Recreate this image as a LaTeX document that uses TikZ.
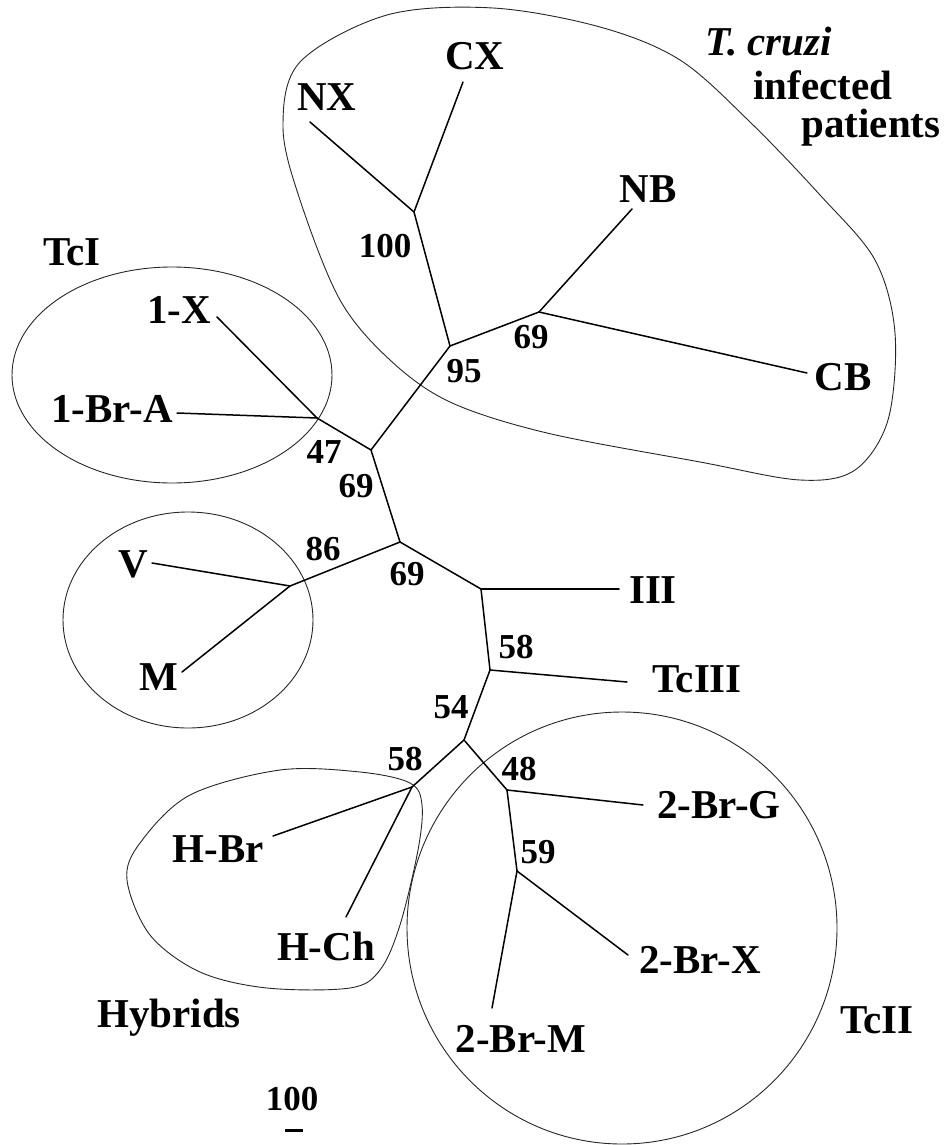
\documentclass[tikz,border=0pt]{standalone}
\usepackage{fontspec}
\setmainfont{Liberation Serif}
\begin{document}
\begin{tikzpicture}[x=1pt,y=-1pt,
  br/.style={line width=1.5pt, line cap=round, line join=round},
  outl/.style={line width=0.9pt, black!85},
  lab/.style={font=\fontsize{41}{45}\selectfont\bfseries, anchor=base, inner sep=0pt},
  bs/.style={font=\fontsize{35}{40}\selectfont\bfseries, anchor=base, inner sep=0pt}]
\useasboundingbox (0,0) rectangle (944,1145);

% ---------- group outlines ----------
\draw[outl] plot[smooth cycle, tension=0.55] coordinates {
 (387,15) (493,8) (600,27) (680,60) (750,122) (820,195) (875,260)
 (895,333) (888,420) (855,470) (800,480) (700,462)
 (547,433) (450,402) (390,360) (340,300) (300,200)
 (283,127) (300,62)};
\draw[outl] (172,375) ellipse [x radius=160, y radius=108];
\draw[outl] (188,620) ellipse [x radius=125, y radius=108];
\draw[outl] (622,928) ellipse [x radius=215, y radius=216];
\draw[outl] plot[smooth cycle, tension=0.55] coordinates {
 (280,770) (360,772) (410,783) (422,805) (418,850) (400,925)
 (380,970) (350,988) (267,988) (200,972) (150,935)
 (127,880) (140,843) (190,795)};

% ---------- internal nodes ----------
\coordinate (n100) at (414,212);
\coordinate (n95) at (450,346);
\coordinate (n69a) at (539,312);
\coordinate (n69b) at (371,450);
\coordinate (n47) at (317,418);
\coordinate (n69c) at (400,542);
\coordinate (n86) at (290,586);
\coordinate (nIII) at (481,589);
\coordinate (nTcIII) at (490,670);
\coordinate (n54) at (464,740);
\coordinate (n58) at (412,787);
\coordinate (n48) at (507,790);
\coordinate (n59) at (517,871);

% ---------- leaf ends ----------
\coordinate (eCX) at (463,82);
\coordinate (eNX) at (310,122);
\coordinate (eNB) at (632,209);
\coordinate (eCB) at (807,373);
\coordinate (e1X) at (217,317);
\coordinate (e1BrA) at (177,413);
\coordinate (eV) at (152,563);
\coordinate (eM) at (182,672);
\coordinate (eIII) at (619,589);
\coordinate (eTcIII) at (627,682);
\coordinate (eHBr) at (273,836);
\coordinate (eHCh) at (346,917);
\coordinate (e2BrG) at (643,805);
\coordinate (e2BrX) at (628,955);
\coordinate (e2BrM) at (492,1008);

% ---------- branches ----------
\draw[br] (n100) -- (eCX);
\draw[br] (n100) -- (eNX);
\draw[br] (n100) -- (n95);
\draw[br] (n95) -- (n69a);
\draw[br] (n69a) -- (eNB);
\draw[br] (n69a) -- (eCB);
\draw[br] (n95) -- (n69b);
\draw[br] (n69b) -- (n47);
\draw[br] (n47) -- (e1X);
\draw[br] (n47) -- (e1BrA);
\draw[br] (n69b) -- (n69c);
\draw[br] (n69c) -- (n86);
\draw[br] (n86) -- (eV);
\draw[br] (n86) -- (eM);
\draw[br] (n69c) -- (nIII);
\draw[br] (nIII) -- (eIII);
\draw[br] (nIII) -- (nTcIII);
\draw[br] (nTcIII) -- (eTcIII);
\draw[br] (nTcIII) -- (n54);
\draw[br] (n54) -- (n58);
\draw[br] (n58) -- (eHBr);
\draw[br] (n58) -- (eHCh);
\draw[br] (n54) -- (n48);
\draw[br] (n48) -- (e2BrG);
\draw[br] (n48) -- (n59);
\draw[br] (n59) -- (e2BrX);
\draw[br] (n59) -- (e2BrM);

% ---------- leaf labels ----------
\node[lab] (lCX) at (475,70) {CX};
\node[lab] (lNX) at (327,111) {NX};
\node[lab] (lNB) at (648,202) {NB};
\node[lab] (lCB) at (843,390) {CB};
\node[lab] (l1X) at (179,323) {1-X};
\node[lab] (l1BrA) at (112,422) {1-Br-A};
\node[lab] (lV) at (133,577) {V};
\node[lab] (lM) at (159,690) {M};
\node[lab] (lIII) at (653,603) {III};
\node[lab] (lTcIII) at (697,692) {TcIII};
\node[lab] (l2BrG) at (719,818) {2-Br-G};
\node[lab] (l2BrX) at (700,973) {2-Br-X};
\node[lab] (l2BrM) at (521,1052) {2-Br-M};
\node[lab] (lHBr) at (218,862) {H-Br};
\node[lab] (lHCh) at (326,960) {H-Ch};

% ---------- group labels ----------
\node[lab, font=\fontsize{41}{45}\selectfont\bfseries\itshape] (gT) at (769,56) {T. cruzi};
\node[lab] (gInf) at (823,100) {infected};
\node[lab] (gPat) at (871,137) {patients};
\node[lab] (gTcI) at (72,265) {TcI};
\node[lab] (gTcII) at (877,1033) {TcII};
\node[lab] (gHyb) at (169,1027) {Hybrids};

% ---------- bootstrap values ----------
\node[bs] (b100) at (385,257) {100};
\node[bs] (b95) at (464,382) {95};
\node[bs] (b69a) at (531,348) {69};
\node[bs] (b47) at (324,463) {47};
\node[bs] (b69b) at (356,497) {69};
\node[bs] (b86) at (323,560) {86};
\node[bs] (b69c) at (407,585) {69};
\node[bs] (b58a) at (516,658) {58};
\node[bs] (b54) at (451,718) {54};
\node[bs] (b58b) at (405,770) {58};
\node[bs] (b48) at (519,780) {48};
\node[bs] (b59) at (538,863) {59};

% ---------- scale bar ----------
\node[bs] (sc) at (292,1110) {100};
\coordinate (sbA) at (285,1130);
\coordinate (sbB) at (303,1130);
\draw[line width=3pt] (sbA) -- (sbB);
\end{tikzpicture}
\end{document}
